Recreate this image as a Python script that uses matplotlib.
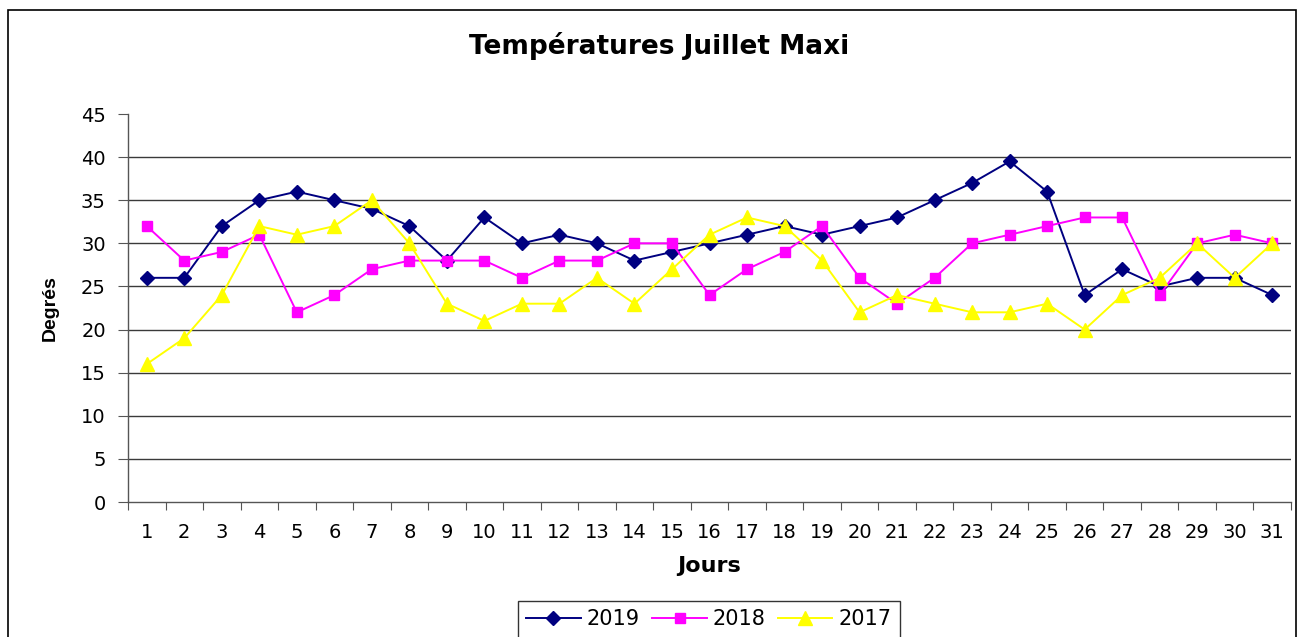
import matplotlib
matplotlib.use("Agg")
import matplotlib.pyplot as plt
from matplotlib.patches import Rectangle

# the original looks horizontally stretched, so the wider DejaVu face is used
# for horizontal text and Arial-like Liberation for the rotated axis label
plt.rcParams["font.family"] = ["DejaVu Sans"]

days = list(range(1, 32))
t2019 = [26, 26, 32, 35, 36, 35, 34, 32, 28, 33, 30, 31, 30, 28, 29, 30,
         31, 32, 31, 32, 33, 35, 37, 39.5, 36, 24, 27, 25, 26, 26, 24]
t2018 = [32, 28, 29, 31, 22, 24, 27, 28, 28, 28, 26, 28, 28, 30, 30, 24,
         27, 29, 32, 26, 23, 26, 30, 31, 32, 33, 33, 24, 30, 31, 30]
t2017 = [16, 19, 24, 32, 31, 32, 35, 30, 23, 21, 23, 23, 26, 23, 27, 31,
         33, 32, 28, 22, 24, 23, 22, 22, 23, 20, 24, 26, 30, 26, 30]
yticks = list(range(0, 50, 5))

W, H = 1298, 637
fig = plt.figure(figsize=(W / 100, H / 100), dpi=100)
ax = fig.add_axes([128 / W, 1 - 502 / H, (1291 - 128) / W, (502 - 114) / H])

# outer chart frame
fig.patches.append(Rectangle((8 / W, -0.05), (1296 - 8) / W, 1.05 - 10 / H,
                             transform=fig.transFigure, fill=False,
                             edgecolor="black", lw=1.2))

ax.plot(days, t2019, color="#000080", lw=1.4, marker="D", ms=7.5, label="2019")
ax.plot(days, t2018, color="#FF00FF", lw=1.4, marker="s", ms=7.5, label="2018")
ax.plot(days, t2017, color="#FFFF00", lw=1.4, marker="^", ms=9.5, label="2017")

ax.set_xlim(0.5, 31.5)
ax.set_ylim(0, 45)
ax.set_yticks(yticks)
for y in yticks[1:-1]:
    ax.axhline(y, color="#3a3a3a", lw=1.0, zorder=0)

# category ticks between days, labels centred on each day
ax.set_xticks([d + 0.5 for d in range(0, 32)])
ax.set_xticklabels([])
ax.set_xticks(days, minor=True)
ax.set_xticklabels([str(d) for d in days], minor=True, fontsize=14)
ax.tick_params(axis="x", which="major", length=6, direction="out", color="#555555")
ax.tick_params(axis="x", which="minor", length=0, pad=15)
ax.tick_params(axis="y", length=7, direction="out", color="#555555",
               labelsize=14, pad=9)

for s in ("top", "right"):
    ax.spines[s].set_visible(False)
for s in ("left", "bottom"):
    ax.spines[s].set_color("#555555")
    ax.spines[s].set_linewidth(1.0)

ax.set_xlabel("Jours", fontsize=16, fontweight="bold", labelpad=10)
ax.set_ylabel("Degrés", fontsize=14, fontweight="bold", labelpad=16,
              family=["Liberation Sans", "DejaVu Sans"])
fig.text(659 / W, 1 - 46 / H, "Températures Juillet Maxi", ha="center",
         va="center", fontsize=19, fontweight="bold")

leg = fig.legend(loc="upper center", bbox_to_anchor=(709 / W, 1 - 601 / H),
                 ncol=3, fontsize=15, frameon=True, fancybox=False,
                 edgecolor="black", handlelength=2.6, handletextpad=0.3,
                 columnspacing=0.6, borderpad=0.4, borderaxespad=0)
leg.get_frame().set_linewidth(1.0)

fig.savefig("out.png", dpi=100)
